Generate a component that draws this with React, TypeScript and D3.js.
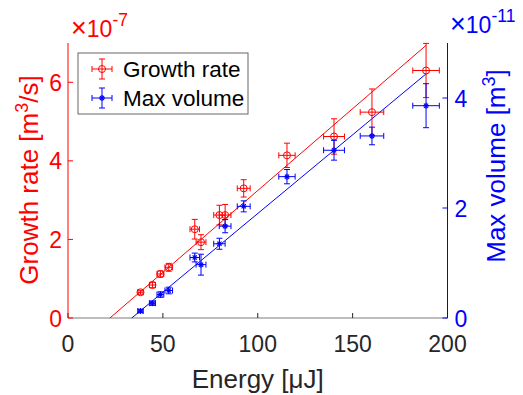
import React from "react";
import * as d3 from "d3";

// Pulse energy (µJ) and its uncertainty
const energy = [38.2, 44.5, 48.7, 53.1, 66.8, 70.1, 79.8, 82.8, 92.6, 115.4, 140.2, 160.2, 188.7];
const energyErr = [1.4, 1.6, 1.8, 2.0, 2.5, 2.6, 3.0, 3.1, 3.4, 4.3, 5.5, 6.2, 7.0];
// Growth rate (×1e-7 m³/s)
const growth = [0.655, 0.84, 1.12, 1.29, 2.26, 1.93, 2.62, 2.62, 3.3, 4.14, 4.62, 5.24, 6.3];
const growthErr = [0.05, 0.07, 0.08, 0.1, 0.25, 0.19, 0.25, 0.27, 0.22, 0.31, 0.45, 0.59, 0.69];
// Max volume (×1e-11 m³)
const volume = [0.127, 0.27, 0.426, 0.5, 1.1, 0.97, 1.35, 1.67, 2.03, 2.57, 3.05, 3.31, 3.86];
const volumeErr = [0.03, 0.04, 0.05, 0.06, 0.08, 0.19, 0.1, 0.12, 0.1, 0.13, 0.18, 0.16, 0.4];
// Linear fits: [slope, intercept, start energy, end energy]
const growthFit = [0.04166, -0.921, 22.1, 188.7];
const volumeFit = [0.02862, -0.962, 33.6, 188.7];

const xTicks = [0, 50, 100, 150, 200];
const leftTicks = [0, 2, 4, 6];
const rightTicks = [0, 2, 4];

const RED = "#ff0000";
const BLUE = "#0000ff";
const GREY = "#262626";
const FONT = "'Liberation Sans', Arial, Helvetica, sans-serif";

const L = 68, R = 447.5, T = 43, B = 318;
const TICK_FS = 23;
const LABEL_FS = 26;

export default function App() {
  const x = d3.scaleLinear().domain([0, 200]).range([L, R]);
  const yL = d3.scaleLinear().domain([0, 7]).range([B, T]);
  const yR = d3.scaleLinear().domain([0, 5]).range([B, T]);
  const cap = 3;

  const errBars = (ys: number[], yErr: number[], y: d3.ScaleLinear<number, number>, color: string, key: string) =>
    energy.map((e, i) => {
      const cx = x(e), cy = y(ys[i]);
      const x0 = x(e - energyErr[i]), x1 = x(e + energyErr[i]);
      const y0 = y(ys[i] - yErr[i]), y1 = y(ys[i] + yErr[i]);
      return (
        <g key={key + i} stroke={color} strokeWidth={1} fill="none">
          <line x1={cx} x2={cx} y1={y0} y2={y1} />
          <line x1={cx - cap} x2={cx + cap} y1={y0} y2={y0} />
          <line x1={cx - cap} x2={cx + cap} y1={y1} y2={y1} />
          <line x1={x0} x2={x1} y1={cy} y2={cy} />
          <line x1={x0} x2={x0} y1={cy - cap} y2={cy + cap} />
          <line x1={x1} x2={x1} y1={cy - cap} y2={cy + cap} />
        </g>
      );
    });

  const circle = (cx: number, cy: number, k: string) => (
    <circle key={k} cx={cx} cy={cy} r={3.5} fill="none" stroke={RED} strokeWidth={1} />
  );
  const star = (cx: number, cy: number, k: string) => {
    const s = 3;
    return (
      <g key={k} stroke={BLUE} strokeWidth={1.2}>
        <line x1={cx - s} x2={cx + s} y1={cy} y2={cy} />
        <line x1={cx} x2={cx} y1={cy - s} y2={cy + s} />
        <line x1={cx - s * 0.7} x2={cx + s * 0.7} y1={cy - s * 0.7} y2={cy + s * 0.7} />
        <line x1={cx - s * 0.7} x2={cx + s * 0.7} y1={cy + s * 0.7} y2={cy - s * 0.7} />
      </g>
    );
  };

  const fitLine = (f: number[], y: d3.ScaleLinear<number, number>) =>
    d3.line<number>().x((e) => x(e)).y((e) => y(f[0] * e + f[1]))([f[2], f[3]]) ?? "";

  return (
    <svg width={523} height={395} style={{ position: "absolute", left: 0, top: 0, background: "#fff" }} fontFamily={FONT}>
      {/* bottom axis */}
      <line x1={L} x2={R} y1={B} y2={B} stroke={GREY} strokeWidth={1} opacity={0.6} />
      {xTicks.map((t) => (
        <g key={"xt" + t}>
          <line x1={x(t)} x2={x(t)} y1={B} y2={B - 5} stroke={GREY} />
          <text x={x(t)} y={352} textAnchor="middle" fontSize={TICK_FS} fill={GREY}>{t}</text>
        </g>
      ))}
      <text x={(L + R) / 2} y={388} textAnchor="middle" fontSize={LABEL_FS} fill={GREY}>Energy [μJ]</text>

      {/* left axis */}
      <line x1={L} x2={L} y1={T} y2={B} stroke={RED} />
      {leftTicks.map((t) => (
        <g key={"lt" + t}>
          <line x1={L} x2={L + 5} y1={yL(t)} y2={yL(t)} stroke={RED} />
          <text x={L - 6} y={yL(t) + 8.5} textAnchor="end" fontSize={TICK_FS} fill={RED}>{t}</text>
        </g>
      ))}
      <text x={71} y={36.5} fontSize={TICK_FS} fill={RED}>
        <tspan fontSize={27} fontWeight={300}>×</tspan>10<tspan dy={-11} fontSize={17.5}>-7</tspan>
      </text>
      <text transform={`translate(38,180) rotate(-90)`} textAnchor="middle" fontSize={LABEL_FS} fill={RED}>
        Growth rate [m<tspan dy={-10} fontSize={18}>3</tspan><tspan dy={10}>/s]</tspan>
      </text>

      {/* right axis */}
      <line x1={R} x2={R} y1={T} y2={B} stroke={BLUE} />
      {rightTicks.map((t) => (
        <g key={"rt" + t}>
          <line x1={R} x2={R - 5} y1={yR(t)} y2={yR(t)} stroke={BLUE} />
          <text x={R + 7} y={yR(t) + 8.5} textAnchor="start" fontSize={TICK_FS} fill={BLUE}>{t}</text>
        </g>
      ))}
      <text x={450} y={33} fontSize={TICK_FS} fill={BLUE}>
        <tspan fontSize={27} fontWeight={300}>×</tspan>10<tspan dy={-11} fontSize={17.5}>-11</tspan>
      </text>
      <text transform={`translate(505,166) rotate(-90)`} textAnchor="middle" fontSize={LABEL_FS} fill={BLUE}>
        Max volume [m<tspan dy={-10} fontSize={18}>3</tspan><tspan dy={10}>]</tspan>
      </text>

      {/* fits */}
      <path d={fitLine(growthFit, yL)} stroke={RED} strokeWidth={1} fill="none" />
      <path d={fitLine(volumeFit, yR)} stroke={BLUE} strokeWidth={1} fill="none" />

      {/* data */}
      {errBars(growth, growthErr, yL, RED, "g")}
      {energy.map((e, i) => circle(x(e), yL(growth[i]), "gc" + i))}
      {errBars(volume, volumeErr, yR, BLUE, "v")}
      {energy.map((e, i) => star(x(e), yR(volume[i]), "vs" + i))}

      {/* legend */}
      <rect x={78} y={53} width={170} height={61} fill="#fff" stroke={GREY} strokeOpacity={0.7} strokeWidth={1} />
      <g stroke={RED} fill="none">
        <line x1={92} x2={112} y1={69} y2={69} />
        <line x1={92} x2={92} y1={66} y2={72} />
        <line x1={112} x2={112} y1={66} y2={72} />
        <line x1={102} x2={102} y1={59} y2={79} />
        <line x1={99} x2={105} y1={59} y2={59} />
        <line x1={99} x2={105} y1={79} y2={79} />
        <circle cx={102} cy={69} r={3.5} />
      </g>
      <text x={123} y={77} fontSize={22.5} fill="#000">Growth rate</text>
      <g stroke={BLUE} fill="none">
        <line x1={92} x2={112} y1={98} y2={98} />
        <line x1={92} x2={92} y1={95} y2={101} />
        <line x1={112} x2={112} y1={95} y2={101} />
        <line x1={102} x2={102} y1={88} y2={108} />
        <line x1={99} x2={105} y1={88} y2={88} />
        <line x1={99} x2={105} y1={108} y2={108} />
      </g>
      {star(102, 98, "legstar")}
      <text x={123} y={106} fontSize={22.5} fill="#000">Max volume</text>
    </svg>
  );
}
